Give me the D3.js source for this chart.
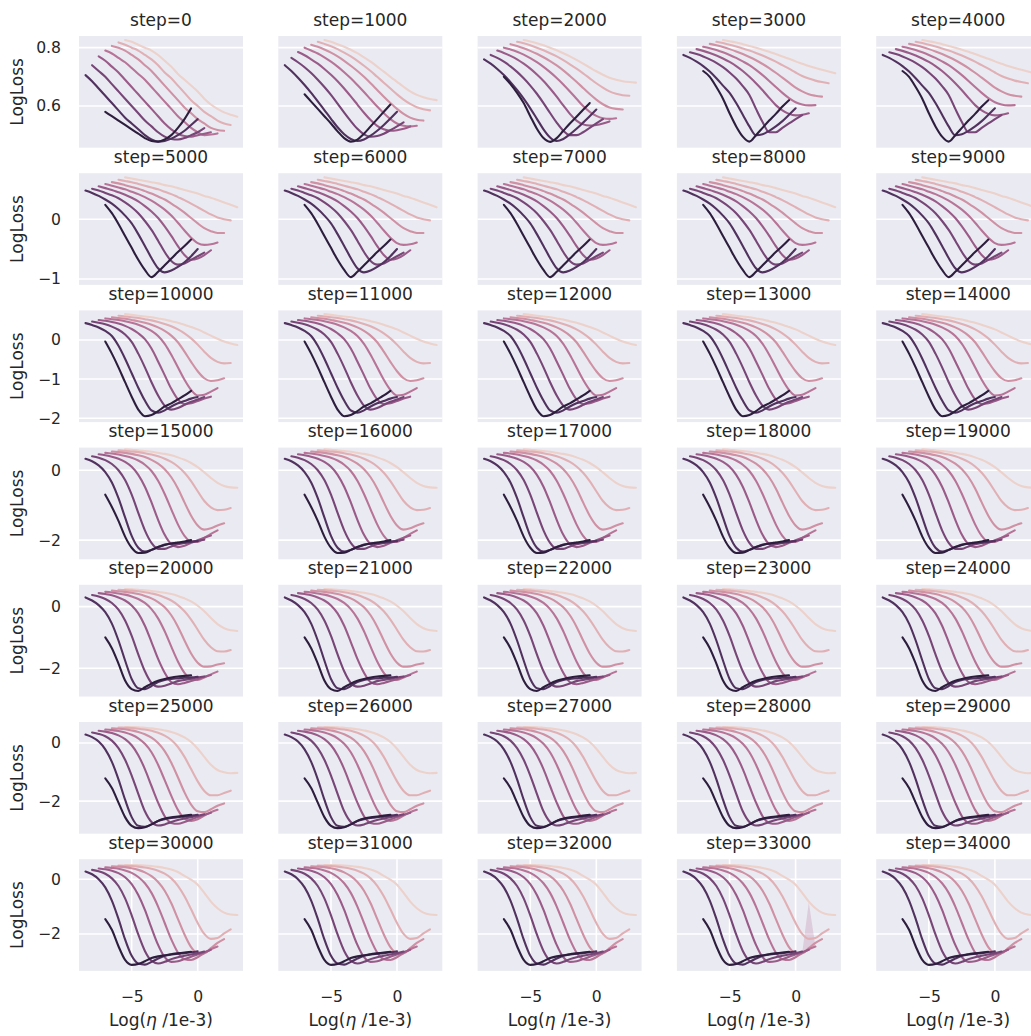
<!DOCTYPE html>
<html><head><meta charset="utf-8">
<script src="https://cdn.jsdelivr.net/npm/d3@7"></script>
<style>html,body{margin:0;padding:0;background:#fff;overflow:hidden}</style>
</head><body><svg id="chart" width="1031" height="1036"></svg>
<script>
// ---------------- data ----------------
const steps = [0,1000,2000,3000,4000,5000,6000,7000,8000,9000,10000,11000,12000,13000,14000,
  15000,16000,17000,18000,19000,20000,21000,22000,23000,24000,25000,26000,27000,28000,29000,
  30000,31000,32000,33000,34000];
// shared learning-rate grid, Log(eta / 1e-3)
const logLR = [-9,-8.5,-8,-7.5,-7,-6.5,-6,-5.5,-5,-4.5,-4,-3.5,-3,-2.5,-2,-1.5,-1,-0.5,0,0.5,1,1.5,2,2.5,3];
// hue levels, lightest -> darkest ; index into logLR of each line's first point
const hueLevels = [0,1,2,3,4,5,6,7];
const firstIdx  = [7,6,5,4,3,2,1,4];
const xTicks = [-5, 0];
const xLimits = [-8.99, 3.43];
const yTicksByRow = [[0.6,0.8],[-1,0],[-2,-1,0],[-2,0],[-2,0],[-2,0],[-2,0]];
const yLimitsByRow = [[0.457,0.840],[-1.10,0.77],[-2.10,0.755],[-2.55,0.65],[-2.92,0.71],[-3.12,0.72],[-3.35,0.73]];

const loss_step0 = [
 [.826,.82,.81,.80,.79,.775,.755,.735,.71,.69,.67,.65,.625,.605,.59,.578,.57,.563],
 [.818,.81,.80,.79,.775,.76,.74,.715,.695,.67,.645,.62,.60,.58,.565,.55,.54,.535],
 [.806,.80,.79,.775,.76,.74,.72,.695,.67,.645,.62,.595,.575,.555,.54,.525,.518,.515],
 [.79,.78,.765,.75,.73,.71,.69,.665,.64,.615,.59,.565,.545,.525,.51,.50,.502,.506],
 [.77,.755,.735,.715,.69,.665,.64,.615,.59,.565,.54,.52,.505,.497,.495,.50,.505,.51],
 [.74,.72,.70,.675,.65,.625,.60,.575,.55,.53,.51,.495,.487,.485,.49,.50,.51,.524],
 [.706,.685,.66,.635,.61,.585,.56,.54,.52,.50,.485,.478,.48,.488,.50,.515,.535,.555],
 [.58,.565,.55,.535,.52,.505,.49,.48,.478,.485,.50,.525,.555,.592]
];
const loss_step1000 = [
 [.826,.82,.812,.803,.793,.781,.767,.752,.735,.718,.70,.683,.666,.65,.638,.63,.624,.62],
 [.82,.813,.805,.795,.783,.77,.755,.738,.72,.70,.68,.66,.64,.622,.607,.596,.589,.585],
 [.81,.803,.794,.783,.77,.755,.738,.72,.70,.678,.655,.632,.61,.59,.573,.56,.553,.55],
 [.80,.79,.78,.767,.752,.735,.716,.695,.672,.648,.623,.598,.575,.555,.54,.532,.53,.532],
 [.785,.774,.76,.745,.727,.707,.685,.66,.633,.605,.577,.552,.532,.52,.515,.517,.522,.53],
 [.765,.75,.733,.713,.69,.665,.638,.608,.577,.548,.522,.503,.495,.497,.505,.517,.53,.544],
 [.74,.72,.697,.672,.645,.616,.586,.556,.527,.503,.487,.48,.485,.498,.515,.535,.557,.58],
 [.64,.615,.59,.565,.54,.513,.49,.478,.485,.505,.53,.555,.58,.605]
];
const loss_step2000 = [
 [.826,.821,.815,.808,.80,.791,.781,.77,.758,.745,.732,.719,.707,.697,.69,.685,.682,.68],
 [.82,.815,.808,.80,.791,.781,.77,.757,.743,.728,.712,.695,.678,.663,.65,.642,.637,.635],
 [.812,.806,.798,.789,.779,.767,.754,.739,.722,.703,.683,.662,.641,.622,.606,.595,.59,.588],
 [.80,.794,.786,.776,.764,.75,.734,.716,.696,.674,.65,.625,.60,.58,.566,.558,.556,.558],
 [.79,.782,.772,.76,.745,.728,.708,.686,.66,.632,.602,.573,.55,.537,.533,.535,.54,.547],
 [.775,.765,.752,.736,.717,.695,.67,.642,.61,.576,.543,.515,.50,.50,.51,.525,.54,.555],
 [.76,.745,.727,.706,.682,.655,.625,.592,.556,.52,.492,.48,.487,.503,.522,.543,.565,.588],
 [.70,.675,.645,.61,.565,.522,.49,.477,.49,.515,.54,.563,.587,.61]
];
const loss_step3000 = [
 [.826,.822,.818,.812,.806,.80,.793,.786,.778,.77,.762,.753,.745,.737,.73,.724,.718,.712],
 [.82,.816,.81,.804,.797,.79,.782,.773,.763,.752,.74,.728,.715,.703,.694,.687,.682,.678],
 [.813,.808,.802,.795,.787,.778,.768,.757,.744,.73,.714,.697,.68,.663,.65,.64,.635,.632],
 [.803,.798,.792,.784,.775,.765,.753,.74,.724,.706,.686,.665,.645,.627,.613,.605,.602,.603],
 [.795,.789,.782,.773,.763,.751,.737,.72,.70,.678,.654,.628,.603,.585,.573,.568,.57,.575],
 [.784,.778,.77,.76,.748,.733,.715,.694,.668,.638,.59,.545,.51,.51,.525,.54,.555,.569],
 [.775,.765,.752,.737,.718,.695,.67,.645,.61,.57,.53,.50,.503,.515,.53,.548,.57,.592],
 [.72,.70,.665,.625,.575,.53,.495,.478,.50,.525,.55,.573,.598,.62]
];
const loss_row1 = [
 [.70,.68,.66,.64,.62,.60,.57,.55,.52,.49,.46,.43,.39,.36,.32,.28,.24,.20],
 [.66,.64,.62,.59,.56,.53,.50,.46,.42,.37,.32,.26,.20,.14,.08,.03,.0,-.02],
 [.62,.60,.57,.54,.51,.47,.43,.38,.33,.26,.19,.11,.02,-.07,-.15,-.20,-.23,-.23],
 [.59,.56,.53,.50,.46,.42,.37,.31,.24,.16,.06,-.06,-.19,-.31,-.40,-.43,-.42,-.39],
 [.55,.52,.49,.45,.41,.36,.30,.22,.13,.02,-.12,-.28,-.45,-.60,-.68,-.66,-.60,-.52],
 [.51,.48,.44,.40,.35,.28,.20,.10,-.03,-.18,-.36,-.55,-.70,-.76,-.74,-.68,-.62,-.56],
 [.48,.44,.39,.33,.26,.17,.06,-.07,-.25,-.45,-.65,-.82,-.89,-.86,-.80,-.72,-.62,-.50],
 [.24,.10,-.08,-.28,-.48,-.68,-.85,-.97,-.88,-.77,-.66,-.55,-.45,-.34]
];
const loss_row2 = [
 [.66,.64,.62,.60,.58,.55,.52,.48,.44,.39,.33,.27,.19,.11,.03,-.04,-.09,-.13],
 [.62,.60,.58,.56,.53,.50,.46,.41,.35,.27,.17,.04,-.12,-.30,-.46,-.56,-.60,-.59],
 [.58,.56,.54,.51,.48,.44,.39,.32,.23,.11,-.06,-.30,-.56,-.80,-.98,-1.05,-1.03,-.98],
 [.55,.53,.51,.48,.44,.39,.32,.23,.10,-.10,-.38,-.70,-1.02,-1.28,-1.42,-1.40,-1.32,-1.23],
 [.51,.49,.46,.42,.36,.28,.17,.02,-.22,-.55,-.90,-1.25,-1.52,-1.64,-1.62,-1.56,-1.50,-1.45],
 [.47,.44,.40,.34,.26,.14,-.05,-.35,-.70,-1.08,-1.42,-1.68,-1.78,-1.74,-1.66,-1.58,-1.52,-1.46],
 [.43,.38,.32,.23,.10,-.15,-.48,-.85,-1.22,-1.55,-1.80,-1.86,-1.80,-1.70,-1.62,-1.56,-1.50,-1.46],
 [-.04,-.35,-.70,-1.08,-1.45,-1.78,-1.95,-1.92,-1.82,-1.70,-1.62,-1.52,-1.42,-1.30]
];
const loss_row3 = [
 [.60,.59,.57,.55,.53,.50,.47,.43,.37,.30,.21,.09,-.06,-.22,-.36,-.45,-.49,-.50],
 [.57,.56,.54,.52,.49,.45,.40,.33,.24,.11,-.07,-.31,-.60,-.88,-1.06,-1.14,-1.13,-1.08],
 [.54,.52,.50,.47,.43,.38,.30,.19,.03,-.20,-.52,-.92,-1.30,-1.58,-1.70,-1.66,-1.58,-1.52],
 [.50,.48,.45,.41,.36,.28,.16,-.02,-.30,-.68,-1.12,-1.55,-1.88,-2.05,-2.05,-1.94,-1.82,-1.72],
 [.46,.43,.39,.33,.24,.10,-.13,-.47,-.92,-1.42,-1.85,-2.12,-2.20,-2.16,-2.08,-2.00,-1.93,-1.87],
 [.40,.36,.29,.18,.0,-.28,-.70,-1.22,-1.72,-2.08,-2.25,-2.25,-2.18,-2.12,-2.08,-2.05,-2.02,-1.99],
 [.33,.26,.14,-.05,-.35,-.80,-1.35,-1.88,-2.22,-2.33,-2.28,-2.20,-2.13,-2.10,-2.08,-2.07,-2.05,-2.03],
 [-.70,-1.05,-1.45,-1.90,-2.22,-2.37,-2.36,-2.28,-2.20,-2.14,-2.10,-2.07,-2.04,-2.00]
];
const loss_row4 = [
 [.57,.56,.55,.53,.51,.48,.45,.41,.35,.27,.17,.03,-.15,-.37,-.57,-.70,-.77,-.79],
 [.55,.54,.52,.50,.47,.43,.38,.30,.20,.05,-.15,-.42,-.75,-1.08,-1.32,-1.45,-1.46,-1.41],
 [.52,.50,.48,.45,.41,.35,.27,.15,-.02,-.28,-.65,-1.10,-1.52,-1.82,-1.95,-1.94,-1.88,-1.84],
 [.48,.46,.43,.39,.33,.25,.12,-.08,-.38,-.80,-1.30,-1.78,-2.15,-2.35,-2.38,-2.30,-2.20,-2.11],
 [.44,.41,.37,.30,.20,.04,-.22,-.62,-1.15,-1.70,-2.15,-2.45,-2.52,-2.48,-2.42,-2.35,-2.28,-2.22],
 [.38,.33,.25,.12,-.10,-.45,-.95,-1.55,-2.10,-2.48,-2.60,-2.57,-2.50,-2.42,-2.38,-2.34,-2.30,-2.27],
 [.30,.20,.05,-.18,-.55,-1.10,-1.75,-2.35,-2.65,-2.68,-2.58,-2.45,-2.38,-2.35,-2.33,-2.31,-2.30,-2.28],
 [-1.0,-1.35,-1.85,-2.40,-2.68,-2.74,-2.62,-2.50,-2.41,-2.35,-2.30,-2.27,-2.25,-2.23]
];
const loss_row5 = [
 [.55,.55,.54,.52,.50,.47,.43,.38,.30,.19,.03,-.20,-.48,-.75,-.93,-1.01,-1.04,-1.03],
 [.53,.52,.51,.49,.46,.42,.35,.25,.10,-.14,-.48,-.90,-1.32,-1.65,-1.80,-1.80,-1.72,-1.64],
 [.50,.49,.47,.43,.38,.30,.18,.0,-.28,-.68,-1.18,-1.70,-2.12,-2.35,-2.38,-2.28,-2.16,-2.08],
 [.46,.44,.41,.36,.28,.16,-.03,-.32,-.75,-1.28,-1.82,-2.30,-2.60,-2.68,-2.62,-2.50,-2.38,-2.30],
 [.42,.39,.34,.26,.13,-.08,-.42,-.90,-1.48,-2.05,-2.52,-2.75,-2.78,-2.72,-2.63,-2.55,-2.47,-2.40],
 [.36,.31,.23,.08,-.18,-.58,-1.12,-1.75,-2.35,-2.72,-2.84,-2.80,-2.72,-2.65,-2.60,-2.55,-2.50,-2.45],
 [.29,.20,.05,-.22,-.65,-1.25,-1.95,-2.55,-2.85,-2.88,-2.80,-2.68,-2.62,-2.58,-2.55,-2.53,-2.50,-2.47],
 [-1.22,-1.55,-2.05,-2.55,-2.85,-2.93,-2.90,-2.80,-2.68,-2.60,-2.56,-2.53,-2.50,-2.47]
];
const loss_row6 = [
 [.52,.52,.51,.50,.48,.45,.41,.35,.26,.12,-.02,-.20,-.50,-.82,-1.06,-1.22,-1.29,-1.31],
 [.50,.49,.48,.46,.43,.38,.31,.20,.03,-.24,-.62,-1.10,-1.60,-2.00,-2.18,-2.15,-1.98,-1.83],
 [.47,.46,.44,.40,.34,.25,.11,-.10,-.42,-.88,-1.45,-2.02,-2.48,-2.70,-2.70,-2.52,-2.33,-2.19],
 [.43,.41,.38,.32,.23,.08,-.15,-.50,-1.00,-1.60,-2.20,-2.68,-2.92,-2.95,-2.85,-2.70,-2.56,-2.46],
 [.39,.36,.31,.22,.07,-.18,-.58,-1.12,-1.78,-2.40,-2.85,-3.02,-3.00,-2.92,-2.83,-2.75,-2.67,-2.58],
 [.34,.29,.20,.03,-.25,-.70,-1.32,-2.02,-2.62,-2.98,-3.08,-3.02,-2.92,-2.85,-2.80,-2.75,-2.70,-2.64],
 [.28,.18,.0,-.30,-.78,-1.45,-2.20,-2.80,-3.08,-3.12,-3.02,-2.90,-2.80,-2.75,-2.72,-2.70,-2.67,-2.63],
 [-1.46,-1.85,-2.45,-2.95,-3.13,-3.10,-3.00,-2.88,-2.82,-2.78,-2.74,-2.71,-2.68,-2.65]
];
const rowData = [null, loss_row1, loss_row2, loss_row3, loss_row4, loss_row5, loss_row6];
const row0Data = [loss_step0, loss_step1000, loss_step2000, loss_step3000, loss_step3000];
// confidence band spike visible at step=33000 (hue level 3)
const band_step33000 = { hue: 3, x: [0.5, 1.0, 1.5], lo: [-2.70, -2.56, -2.46], hi: [-2.70, -0.85, -2.46] };

// ---------------- drawing ----------------
const nCols = 5, nRows = 7;
const left0 = 79, colStep = 199.3, panelW = 164;
const top0 = 36, rowStep = 137.2, panelH = 111.7;
const txt = "#262626";
const font = "'DejaVu Sans', sans-serif";
const labelSize = 17, tickSize = 15.6;

// seaborn default cubehelix colormap (start=0, rot=.4, hue=.8, light=.85, dark=.15)
function cubehelix(t) {
  const x = 0.85 - 0.7 * t, h = 0.8, a = h * x * (1 - x) / 2, phi = 2 * Math.PI * (0.4 * x);
  const c = Math.cos(phi), s = Math.sin(phi);
  const cl = v => Math.max(0, Math.min(1, v));
  const r = cl(x + a * (-0.14861 * c + 1.78277 * s));
  const g = cl(x + a * (-0.29227 * c - 0.90649 * s));
  const b = cl(x + a * (1.97294 * c));
  return d3.rgb(r * 255, g * 255, b * 255).formatHex();
}
const hueMax = d3.max(hueLevels);
const color = h => cubehelix(h / hueMax);

const svg = d3.select("#chart");
const fmt = v => (v < 0 ? "\u2212" : "") + (Math.abs(v) % 1 === 0 ? Math.abs(v) : Math.abs(v).toFixed(1));

steps.forEach((step, k) => {
  const r = Math.floor(k / nCols), c = k % nCols;
  const x0 = left0 + c * colStep, y0 = top0 + r * rowStep;
  const g = svg.append("g").attr("transform", `translate(${x0},${y0})`);
  const x = d3.scaleLinear().domain(xLimits).range([0, panelW]);
  const y = d3.scaleLinear().domain(yLimitsByRow[r]).range([panelH, 0]);
  g.append("rect").attr("width", panelW).attr("height", panelH).attr("fill", "#eaeaf2");
  // horizontal grid
  g.selectAll(".hg").data(yTicksByRow[r]).enter().append("line")
    .attr("x1", 0).attr("x2", panelW).attr("y1", d => y(d)).attr("y2", d => y(d))
    .attr("stroke", "#fff").attr("stroke-width", 1.6);
  if (r === nRows - 1) {
    g.selectAll(".vg").data(xTicks).enter().append("line")
      .attr("y1", 0).attr("y2", panelH).attr("x1", d => x(d)).attr("x2", d => x(d))
      .attr("stroke", "#fff").attr("stroke-width", 1.6);
    const xa = g.append("g").attr("transform", `translate(0,${panelH})`)
      .call(d3.axisBottom(x).tickValues(xTicks).tickSize(0).tickPadding(20.5).tickFormat(fmt));
    xa.select(".domain").remove();
    xa.selectAll("text").attr("font-family", font).attr("font-size", tickSize).attr("fill", txt);
    const xl = g.append("text").attr("x", panelW / 2).attr("y", panelH + 55)
      .attr("text-anchor", "middle").attr("font-family", font).attr("font-size", labelSize).attr("fill", txt);
    xl.append("tspan").text("Log(");
    xl.append("tspan").attr("font-style", "italic").text("\u03b7");
    xl.append("tspan").text(" /1e-3)");
  }
  if (c === 0) {
    const ya = g.append("g").call(d3.axisLeft(y).tickValues(yTicksByRow[r]).tickSize(0).tickPadding(18).tickFormat(fmt));
    ya.select(".domain").remove();
    ya.selectAll("text").attr("font-family", font).attr("font-size", tickSize).attr("fill", txt);
    g.append("text").attr("transform", `translate(${-56},${panelH / 2}) rotate(-90)`)
      .attr("text-anchor", "middle").attr("font-family", font).attr("font-size", labelSize).attr("fill", txt)
      .text("LogLoss");
  }
  g.append("text").attr("x", panelW / 2).attr("y", -10.5).attr("text-anchor", "middle")
    .attr("font-family", font).attr("font-size", labelSize).attr("fill", txt).text("step=" + step);

  const data = r === 0 ? row0Data[c] : rowData[r];
  const line = d3.line().x(d => x(d[0])).y(d => y(d[1])).curve(d3.curveMonotoneX);
  const clipId = "clip" + k;
  g.append("clipPath").attr("id", clipId).append("rect").attr("width", panelW).attr("height", panelH);
  const lg = g.append("g").attr("clip-path", `url(#${clipId})`);
  if (step === 33000) {
    const b = band_step33000;
    const area = d3.area().x(d => x(d[0])).y0(d => y(d[1])).y1(d => y(d[2]));
    lg.append("path").attr("d", area(b.x.map((v, j) => [v, b.lo[j], b.hi[j]])))
      .attr("fill", color(b.hue)).attr("fill-opacity", 0.25);
  }
  data.forEach((vals, i) => {
    const pts = vals.map((v, j) => [logLR[firstIdx[i] + j], v]);
    lg.append("path").attr("d", line(pts)).attr("fill", "none")
      .attr("stroke", color(hueLevels[i])).attr("stroke-width", 2.1)
      .attr("stroke-linejoin", "round").attr("stroke-linecap", "round");
  });
});
</script></body></html>
